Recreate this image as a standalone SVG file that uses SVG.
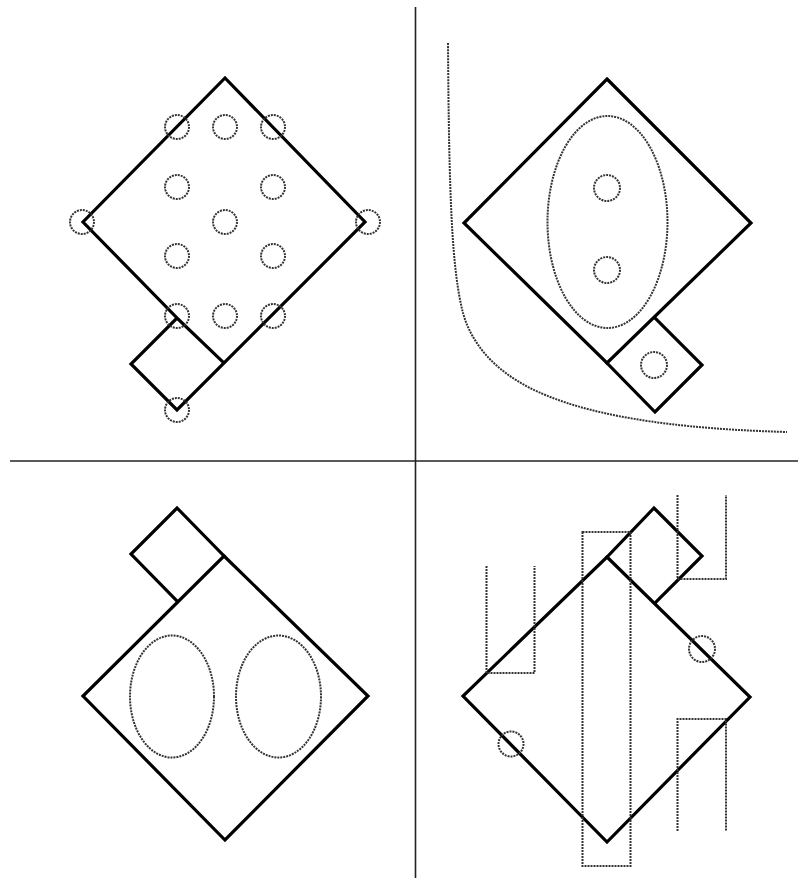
<svg xmlns="http://www.w3.org/2000/svg" width="800" height="888" viewBox="0 0 800 888">
<style>
.bg{fill:#fff}
.solid{fill:none;stroke:#000;stroke-width:3.2;stroke-linejoin:miter;stroke-linecap:square}
.dot{fill:none;stroke:#333;stroke-width:2;stroke-dasharray:2 1}
.div{fill:none;stroke:#222;stroke-width:1.6}
</style>
<rect class="bg" x="0" y="0" width="800" height="888"/>
<g id="dividers">
<line class="div" x1="415.5" y1="7" x2="415.5" y2="878"/>
<line class="div" x1="10" y1="461" x2="798" y2="461"/>
</g>
<g id="panel1">
<path class="solid" d="M177,318 L83,222 L225,78 L365,222 L177,410 L131,364 L177,318 L224,363"/>
<g class="dot">
<circle cx="177" cy="127" r="12"/>
<circle cx="225" cy="127" r="12"/>
<circle cx="273" cy="127" r="12"/>
<circle cx="177" cy="187" r="12"/>
<circle cx="273" cy="187" r="12"/>
<circle cx="82" cy="222" r="12"/>
<circle cx="225" cy="222" r="12"/>
<circle cx="368" cy="222" r="12"/>
<circle cx="177" cy="256" r="12"/>
<circle cx="273" cy="256" r="12"/>
<circle cx="177" cy="316" r="12"/>
<circle cx="225" cy="316" r="12"/>
<circle cx="273" cy="316" r="12"/>
<circle cx="177" cy="410" r="12"/>
</g>
</g>
<g id="panel2">
<path class="dot" d="M448,43 C449,200 452,270 463,313 C472,345 495,370 530,388 C570,408 640,428 787,432"/>
<path class="solid" d="M607,79 L751,223 L607,363 L464,223 Z"/>
<path class="solid" d="M607,363 L655,412 L702,365 L656,319"/>
<g class="dot">
<ellipse cx="607.5" cy="222" rx="60" ry="106"/>
<circle cx="607" cy="188" r="13"/>
<circle cx="607" cy="270" r="13"/>
<circle cx="654" cy="365" r="13"/>
</g>
</g>
<g id="panel3">
<path class="solid" d="M224,556 L368,696 L225,840 L83,696 Z"/>
<path class="solid" d="M224,556 L177,508 L131,554 L177,601"/>
<g class="dot">
<ellipse cx="172" cy="696.5" rx="42" ry="61"/>
<ellipse cx="278.5" cy="696.5" rx="42.5" ry="61"/>
</g>
</g>
<g id="panel4">
<path class="solid" d="M607,557 L750,697 L607,842 L463,696 Z"/>
<path class="solid" d="M607,557 L654,508 L702,556 L655,603"/>
<g class="dot">
<rect x="582.5" y="532" width="48" height="334"/>
<path d="M486.5,566 V673 H534.5 V566"/>
<path d="M677.5,495 V579 H726 V495"/>
<path d="M677.5,831 V719 H726 V831"/>
<circle cx="702" cy="649" r="13"/>
<circle cx="511" cy="744" r="12.5"/>
</g>
</g>
</svg>
